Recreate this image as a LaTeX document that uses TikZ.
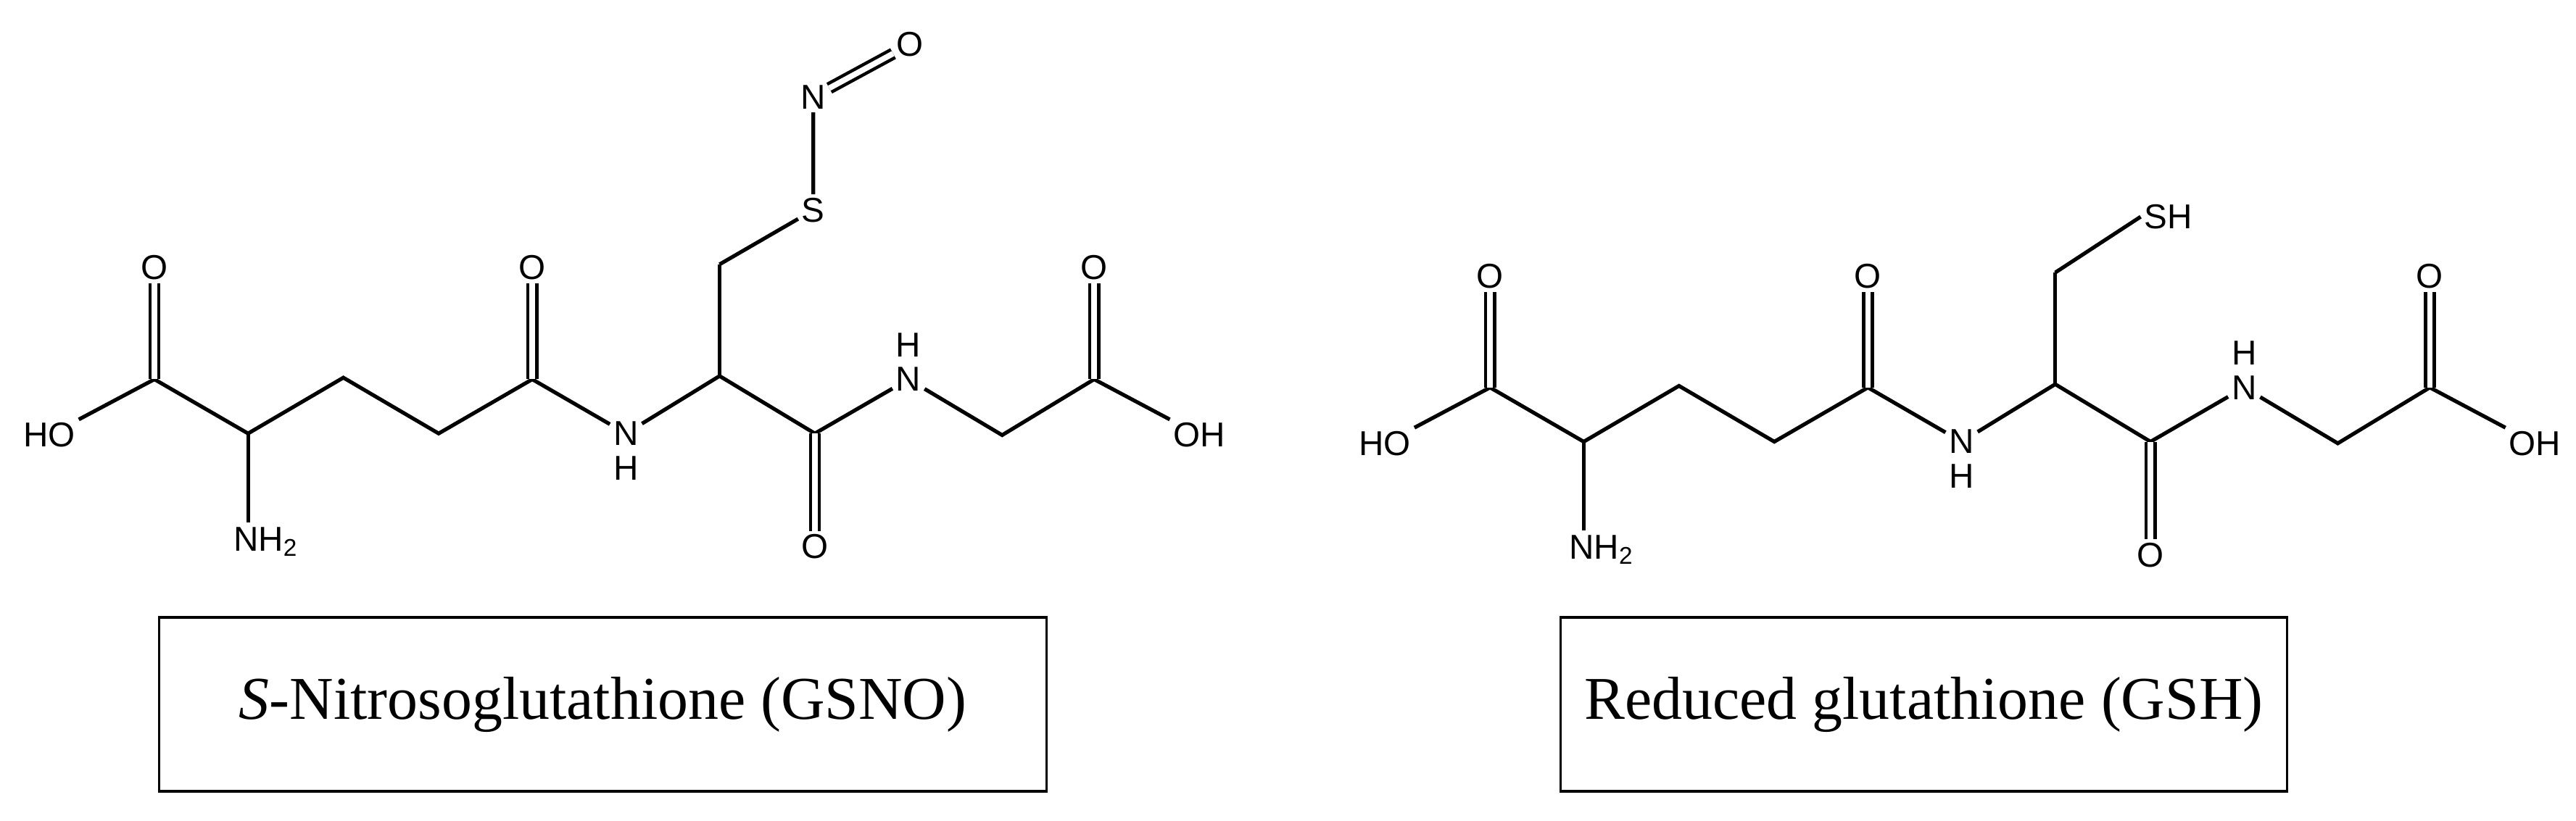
\documentclass[tikz,border=0pt]{standalone}
\usepackage{fontspec}
\setmainfont{Liberation Serif}
\newfontfamily\atomfont{Liberation Sans}
\begin{document}
\begin{tikzpicture}[x=1pt,y=-1pt,
  bond/.style={line width=2.3pt},
  dbl/.style={double,double distance=3.4pt,line width=2pt},
  atom/.style={font=\atomfont\fontsize{21}{21}\selectfont,inner sep=2pt},
  lbox/.style={draw,line width=1.5pt,minimum height=106pt,font=\fontsize{37}{37}\selectfont}]
\useasboundingbox (0,0) rectangle (1568,500);
\newcommand{\backbone}{%
  \coordinate (c1) at (94,231);
  \node[atom] (o1) at (94,163) {O};
  \node[atom] (ho) at (30,265) {HO};
  \coordinate (ca) at (151,264);
  \coordinate (nb) at (151,318);
  \node[atom,anchor=north west,inner sep=0pt] (nh2) at (142,321) {NH\textsubscript{2}};
  \coordinate (c3) at (209,230);
  \coordinate (c4) at (267,264);
  \coordinate (c5) at (324,231);
  \node[atom] (o2) at (324,163) {O};
  \node[atom] (n1) at (381,264) {N};
  \node[atom] (h1) at (381,285) {H};
  \coordinate (ca2) at (438,229);
  \coordinate (cb) at (438,161);
  \coordinate (c6) at (496,264);
  \node[atom] (o3) at (496,333) {O};
  \node[atom] (n2) at (553,231) {N};
  \node[atom] (h2) at (553,210) {H};
  \coordinate (c7) at (610,265);
  \coordinate (c8) at (666,231);
  \node[atom] (o4) at (666,163) {O};
  \node[atom] (oh) at (730,265) {OH};
  \draw[bond] (ho) -- (c1) -- (ca) -- (c3) -- (c4) -- (c5) -- (n1) -- (ca2) -- (c6) -- (n2) -- (c7) -- (c8) -- (oh);
  \draw[bond] (ca) -- (nb);
  \draw[bond] (ca2) -- (cb);
  \draw[dbl] (c1) -- (o1);
  \draw[dbl] (c5) -- (o2);
  \draw[dbl] (c6) -- (o3);
  \draw[dbl] (c8) -- (o4);
}
\begin{scope}[name prefix=L-]
  \backbone
  \node[atom] (s) at (495,128) {S};
  \node[atom] (n3) at (495,59) {N};
  \node[atom] (o5) at (554,27) {O};
  \draw[bond] (cb) -- (s) -- (n3);
  \draw[dbl] (n3) -- (o5);
\end{scope}
\begin{scope}[name prefix=R-,shift={(813,5)}]
  \backbone
  \node[atom,anchor=west] (sh) at (490,127) {SH};
  \draw[bond] (cb) -- (sh.west);
\end{scope}
\node[lbox,minimum width=540pt] (t1) at (367,429) {\textit{S}-Nitrosoglutathione (GSNO)};
\node[lbox,minimum width=442pt] (t2) at (1171,429) {Reduced glutathione (GSH)};
\end{tikzpicture}
\end{document}
